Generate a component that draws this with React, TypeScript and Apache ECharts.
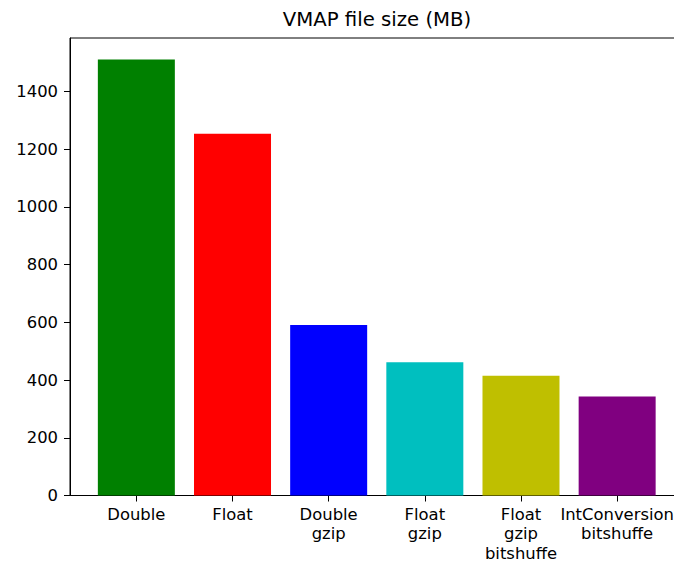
import React, { useEffect, useRef } from "react";
import * as echarts from "echarts";

const categories = ["Double", "Float", "Double\ngzip", "Float\ngzip", "Float\ngzip\nbitshuffe", "IntConversion\nbitshuffe"];
const sizes = [1511, 1254, 591, 462, 415, 343];
const barColors = ["#008000", "#ff0000", "#0000ff", "#00bfbf", "#bfbf00", "#800080"];
const yTicks = [0, 200, 400, 600, 800, 1000, 1200, 1400];
const xTicks = [0, 1, 2, 3, 4, 5];

const FONT = "DejaVu Sans";

export default function App() {
  const ref = useRef<HTMLDivElement>(null);
  useEffect(() => {
    if (!ref.current) return;
    const chart = echarts.init(ref.current, null, { renderer: "svg" });
    chart.setOption({
      animation: false,
      backgroundColor: "#fff",
      title: {
        text: "VMAP file size (MB)",
        left: 377,
        top: 9.5,
        padding: 0,
        textAlign: "center",
        textStyle: { fontFamily: FONT, fontSize: 19.7, fontWeight: "normal", color: "#000", lineHeight: 20 },
      },
      grid: {
        left: 70,
        top: 38,
        width: 613.5,
        height: 457.5,
        show: true,
        borderColor: "#000",
        borderWidth: 1,
        backgroundColor: "transparent",
        containLabel: false,
      },
      xAxis: {
        type: "value",
        min: -0.69,
        max: 5.69,
        splitLine: { show: false },
        axisLine: { show: true, onZero: false, lineStyle: { color: "#000", width: 1 } },
        axisTick: { show: true, customValues: xTicks, length: 6, lineStyle: { color: "#000" } },
        axisLabel: {
          customValues: xTicks,
          formatter: (v: number) => categories[Math.round(v)] ?? "",
          fontFamily: FONT,
          fontSize: 16.4,
          lineHeight: 19.5,
          color: "#000",
          margin: 9,
        },
      },
      yAxis: {
        type: "value",
        min: 0,
        max: 1585.5,
        splitLine: { show: false },
        axisLine: { show: true, onZero: false, lineStyle: { color: "#000", width: 1 } },
        axisTick: { show: true, customValues: yTicks, length: 6, lineStyle: { color: "#000" } },
        axisLabel: {
          customValues: yTicks,
          formatter: (v: number) => String(v),
          fontFamily: FONT,
          fontSize: 16.4,
          color: "#000",
          margin: 12,
        },
      },
      series: [
        {
          type: "bar",
          barWidth: 77,
          data: sizes.map((v, i) => ({ value: [i, v], itemStyle: { color: barColors[i] } })),
        },
      ],
    });
    return () => chart.dispose();
  }, []);
  return (
    <div style={{ position: "fixed", left: 0, top: 0, width: 674, height: 563, overflow: "hidden", background: "#fff" }}>
      <div ref={ref} style={{ width: 700, height: 563 }} />
    </div>
  );
}
